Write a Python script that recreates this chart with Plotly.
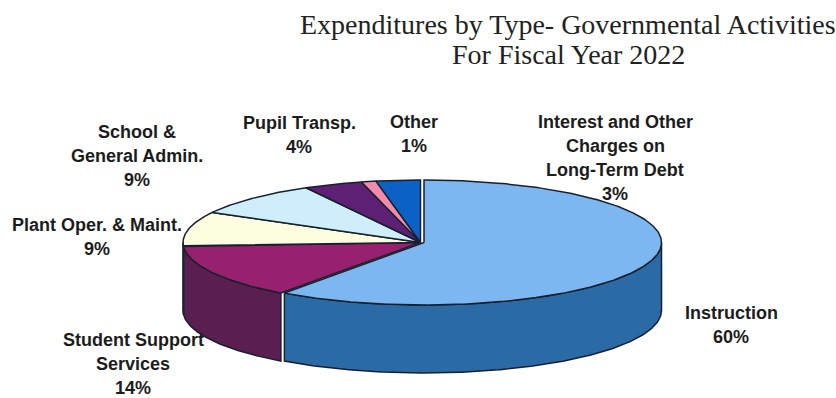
import numpy as np
import plotly.graph_objects as go

# Expenditure shares, clockwise from twelve o'clock
categories = ["Instruction", "Student Support Services", "Plant Oper. & Maint.",
              "School & General Admin.", "Pupil Transp.", "Other",
              "Interest and Other Charges on Long-Term Debt"]
shares = [60, 14, 9, 9, 4, 1, 3]
top_colors = ["#7db7f1", "#97206f", "#fdfddf", "#cfeefc", "#5e2075", "#f28bab", "#0b62c4"]
side_colors = ["#2a6ba6", "#581f50", "#8f8f7a", "#7f95a0", "#3a1448", "#96566a", "#063c78"]
outline = "#18202e"

title_lines = ["Expenditures by Type- Governmental Activities", "For Fiscal Year 2022"]
label_lines = [
    ["Instruction", "60%"],
    ["Student Support", "Services", "14%"],
    ["Plant Oper. & Maint.", "9%"],
    ["School &", "General Admin.", "9%"],
    ["Pupil Transp.", "4%"],
    ["Other", "1%"],
    ["Interest and Other", "Charges on", "Long-Term Debt", "3%"],
]
label_x = [731, 133, 97, 137, 299, 414, 615]
label_y = [313, 340, 225, 132, 123, 122, 122]
label_step = [24, 24, 24, 24, 24, 24, 24]

# Pie geometry on a canvas-sized axis pair
cx, cy, rx, ry, depth = 420.5, 242.5, 237.5, 62.5, 68
explode = [3.5, 0, 0, 0, 0, 0, 0]


def rim(a0, a1, dx):
    t = np.radians(np.linspace(a0, a1, max(int(abs(a1 - a0)) * 2, 2)))
    return cx + dx + rx * np.sin(t), cy - ry * np.cos(t)


fig = go.Figure()
edges = np.concatenate([[0], np.cumsum(shares)]) * 3.6


def add_poly(x, y, color):
    fig.add_trace(go.Scatter(x=x, y=y, mode="lines", fill="toself", fillcolor=color,
                             line=dict(color=outline, width=1.5), hoverinfo="skip",
                             showlegend=False))


# Side walls for the part of each slice that faces the viewer
for a0, a1, dx, color in zip(edges[:-1], edges[1:], explode, side_colors):
    lo, hi = max(a0, 90), min(a1, 270)
    if hi > lo:
        x, y = rim(lo, hi, dx)
        add_poly(np.r_[x, x[::-1], x[0]], np.r_[y, y[::-1] + depth, y[0]], color)

# Top faces
for a0, a1, dx, color in zip(edges[:-1], edges[1:], explode, top_colors):
    x, y = rim(a0, a1, dx)
    add_poly(np.r_[cx + dx, x, cx + dx], np.r_[cy, y, cy], color)

# Title and labels, set line by line for their tight and loose leading
for line, y in zip(title_lines, [24, 54]):
    fig.add_annotation(x=568, y=y, text=line, showarrow=False, xanchor="center", yanchor="middle",
                       font=dict(family="Liberation Serif", size=28, color="#222222"))
for lines, x0, y0, step in zip(label_lines, label_x, label_y, label_step):
    for i, line in enumerate(lines):
        fig.add_annotation(x=x0, y=y0 + i * step, text=line, showarrow=False,
                           xanchor="center", yanchor="middle",
                           font=dict(family="Liberation Sans", size=18, color="#1c1c1c",
                                     weight="bold"))

fig.update_layout(
    width=836, height=398, margin=dict(l=0, r=0, t=0, b=0),
    paper_bgcolor="white", plot_bgcolor="white", showlegend=False,
    xaxis=dict(range=[0, 836], visible=False, fixedrange=True),
    yaxis=dict(range=[398, 0], visible=False, fixedrange=True),
)
fig.write_html("out.html", config={"displayModeBar": False})
